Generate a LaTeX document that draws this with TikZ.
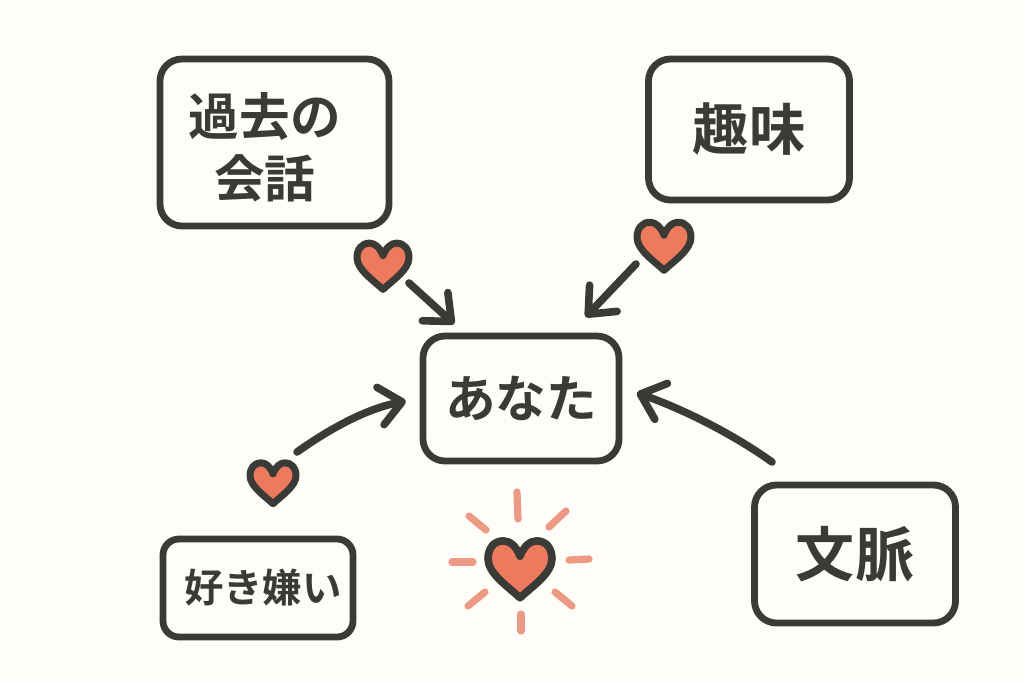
\documentclass[tikz,border=0pt]{standalone}
\usepackage{fontspec}
\setmainfont{Noto Sans CJK JP}[BoldFont={* Bold}]
\usetikzlibrary{arrows.meta}
\definecolor{ink}{HTML}{3A3A37}
\definecolor{paper}{HTML}{FEFDFA}
\definecolor{heartred}{HTML}{EE7A5E}
\definecolor{rayred}{HTML}{EC9A84}
\tikzset{
  topic/.style={draw=ink,line width=1.7mm,rounded corners=5.5mm,text=ink,inner sep=0pt,align=center,font=\bfseries},
  link/.style={draw=ink,line width=1.9mm,line cap=round,-{Straight Barb[round,length=5.5mm,width=9.5mm]}},
  ray/.style={draw=rayred,line width=1.8mm,line cap=round},
  pics/heart/.style={code={
    \draw[draw=ink,fill=heartred,line width=#1,line join=round]
      (0,-.2) .. controls (-.06,-.36) and (-.16,-.44) .. (-.26,-.44)
      .. controls (-.41,-.44) and (-.5,-.32) .. (-.5,-.16)
      .. controls (-.5,.07) and (-.18,.28) .. (0,.45)
      .. controls (.18,.28) and (.5,.07) .. (.5,-.16)
      .. controls (.5,-.32) and (.41,-.44) .. (.26,-.44)
      .. controls (.16,-.44) and (.06,-.36) .. (0,-.2) -- cycle;
  }},
}
\begin{document}
\begin{tikzpicture}[x=0.25mm,y=-0.25mm]
% page
\fill[paper] (0,0) rectangle (1024,683);
\useasboundingbox (0,0) rectangle (1024,683);

% boxes
\node[topic,minimum width=57.25mm,minimum height=41.75mm,
  label={[text=ink,align=center,xshift=-2.4mm,yshift=-1.2mm,font=\bfseries\fontsize{36}{44}\selectfont]center:過去の\\会話}] (past) at (274.5,142.5) {};
\node[topic,minimum width=50.25mm,minimum height=35.25mm,font=\bfseries\fontsize{40}{44}\selectfont] (hobby) at (749,129.5) {趣味};
\node[topic,minimum width=49mm,minimum height=31.25mm,font=\bfseries\fontsize{36}{44}\selectfont] (you) at (521,398.5) {あなた};
\node[topic,minimum width=47.5mm,minimum height=24.5mm,rounded corners=4mm,
  label={[text=ink,xshift=1.2mm,font=\bfseries\fontsize{28}{33}\selectfont]center:好き嫌い}] (likes) at (258,588) {};
\node[topic,minimum width=50.25mm,minimum height=34.5mm,font=\bfseries\fontsize{42}{50}\selectfont] (context) at (855,554) {文脈};

% small hearts
\pic[scale=52] at (383,266) {heart=1.75mm};
\pic[scale=54] at (664,246) {heart=1.75mm};
\pic[scale=46] at (273,483) {heart=1.75mm};

% free ends of the arrows
\coordinate (tailA) at (409,283);
\coordinate (tailB) at (636,264);
\coordinate (tailC) at (297,452);
\coordinate (tailD) at (772,462);

\draw[link,shorten >=3.2mm] (tailA) -- (you.131);
\draw[link,shorten >=5.4mm] (tailB) -- (you.53);
\draw[link,shorten >=3.5mm] (tailC) .. controls (335,425) and (370,408) .. (you.west);
\draw[link,shorten >=3.8mm] (tailD) .. controls (730,432) and (680,408) .. (you.6);

% glowing heart
\foreach \xa/\ya/\xb/\yb in {517/492/518/519, 469/516/486/530, 566/511/549/527, 452/562/473/562,
  569/560/589/559, 468/606/485/592, 555/592/572/606, 521/614/521/631}
  \draw[ray] (\xa,\ya) -- (\xb,\yb);
\pic[scale=64] at (520,569) {heart=1.9mm};
\end{tikzpicture}
\end{document}
